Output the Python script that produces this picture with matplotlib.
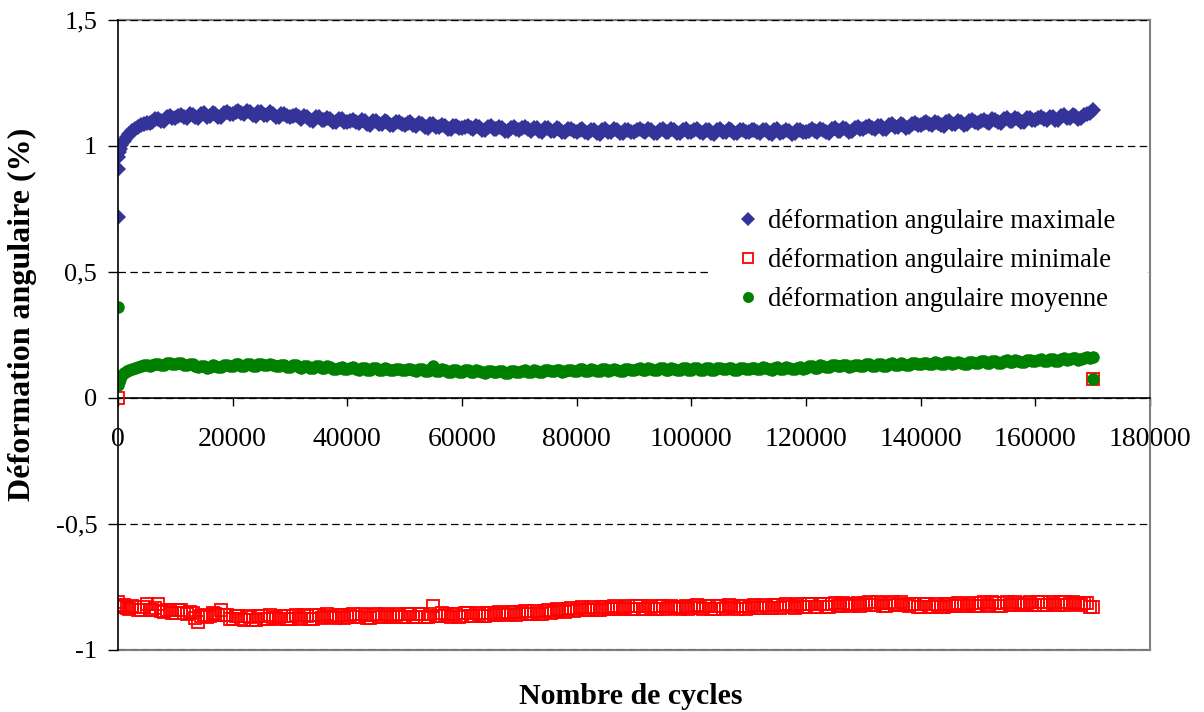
import numpy as np
import matplotlib
matplotlib.use("Agg")
import matplotlib.pyplot as plt
from matplotlib.patches import Rectangle
from matplotlib.ticker import FuncFormatter

plt.rcParams['font.family'] = ['Liberation Serif', 'DejaVu Serif']

# Readings every 1000 cycles (1000 ... 170000) and in between (1500 ... 169500)
cycles = np.arange(1000, 171000, 1000)
cycles_half = np.arange(1500, 170000, 1000)

# ---- maximum angular strain (%) ----
max_start_cycles = [0, 0, 50, 150, 300, 600]
max_start = [0.72, 0.91, 0.955, 0.975, 0.99, 1.005]
max_values = [
    1.020, 1.048, 1.068, 1.083, 1.093, 1.096, 1.107, 1.101, 1.118, 1.111,
    1.124, 1.113, 1.124, 1.111, 1.129, 1.119, 1.126, 1.117, 1.133, 1.125,
    1.137, 1.125, 1.134, 1.119, 1.136, 1.124, 1.128, 1.116, 1.128, 1.115,
    1.124, 1.109, 1.117, 1.101, 1.117, 1.104, 1.108, 1.095, 1.107, 1.095,
    1.104, 1.090, 1.099, 1.084, 1.101, 1.089, 1.094, 1.082, 1.095, 1.084,
    1.094, 1.080, 1.088, 1.072, 1.088, 1.075, 1.080, 1.068, 1.081, 1.070,
    1.080, 1.067, 1.076, 1.062, 1.079, 1.067, 1.073, 1.061, 1.075, 1.064,
    1.075, 1.061, 1.071, 1.056, 1.073, 1.061, 1.066, 1.054, 1.067, 1.057,
    1.066, 1.053, 1.063, 1.049, 1.067, 1.056, 1.062, 1.051, 1.065, 1.055,
    1.067, 1.054, 1.064, 1.050, 1.068, 1.057, 1.063, 1.052, 1.066, 1.056,
    1.066, 1.053, 1.063, 1.049, 1.067, 1.056, 1.062, 1.051, 1.065, 1.055,
    1.065, 1.052, 1.062, 1.048, 1.066, 1.055, 1.061, 1.050, 1.064, 1.054,
    1.066, 1.054, 1.065, 1.052, 1.071, 1.061, 1.068, 1.059, 1.074, 1.066,
    1.078, 1.067, 1.078, 1.066, 1.086, 1.076, 1.084, 1.075, 1.091, 1.082,
    1.094, 1.082, 1.093, 1.080, 1.099, 1.089, 1.096, 1.086, 1.102, 1.093,
    1.105, 1.093, 1.104, 1.091, 1.110, 1.100, 1.107, 1.097, 1.112, 1.103,
    1.115, 1.104, 1.115, 1.103, 1.122, 1.112, 1.120, 1.110, 1.126, 1.143,
]
max_values_half = [
    1.036, 1.059, 1.076, 1.089, 1.091, 1.109, 1.098, 1.115, 1.111, 1.119,
    1.116, 1.126, 1.114, 1.126, 1.117, 1.130, 1.115, 1.130, 1.125, 1.133,
    1.129, 1.137, 1.123, 1.134, 1.123, 1.133, 1.116, 1.127, 1.118, 1.121,
    1.114, 1.120, 1.105, 1.115, 1.103, 1.113, 1.095, 1.106, 1.097, 1.101,
    1.095, 1.102, 1.088, 1.099, 1.088, 1.099, 1.082, 1.094, 1.086, 1.091,
    1.085, 1.091, 1.076, 1.086, 1.074, 1.085, 1.068, 1.080, 1.072, 1.077,
    1.071, 1.079, 1.065, 1.077, 1.066, 1.077, 1.061, 1.073, 1.066, 1.071,
    1.066, 1.073, 1.060, 1.071, 1.060, 1.071, 1.054, 1.066, 1.058, 1.063,
    1.057, 1.065, 1.052, 1.064, 1.054, 1.066, 1.050, 1.063, 1.056, 1.062,
    1.058, 1.066, 1.053, 1.065, 1.055, 1.067, 1.051, 1.064, 1.057, 1.063,
    1.057, 1.065, 1.052, 1.064, 1.054, 1.066, 1.050, 1.063, 1.056, 1.062,
    1.056, 1.064, 1.051, 1.063, 1.053, 1.065, 1.049, 1.062, 1.055, 1.061,
    1.058, 1.067, 1.055, 1.068, 1.059, 1.072, 1.057, 1.072, 1.066, 1.074,
    1.070, 1.080, 1.068, 1.082, 1.074, 1.087, 1.073, 1.088, 1.083, 1.090,
    1.086, 1.095, 1.083, 1.096, 1.087, 1.100, 1.085, 1.099, 1.094, 1.101,
    1.097, 1.106, 1.094, 1.107, 1.098, 1.111, 1.096, 1.110, 1.104, 1.111,
    1.107, 1.117, 1.105, 1.119, 1.110, 1.123, 1.109, 1.123, 1.130,
]

# ---- minimum angular strain (%) ----
min_start_cycles = [0, 0, 100, 300, 600]
min_start = [0.0, -0.810, -0.822, -0.828, -0.826]
min_values = [
    -0.821, -0.836, -0.829, -0.842, -0.816, -0.842, -0.817, -0.849, -0.840, -0.852,
    -0.842, -0.858, -0.855, -0.890, -0.862, -0.866, -0.856, -0.842, -0.861, -0.877,
    -0.866, -0.879, -0.869, -0.880, -0.865, -0.875, -0.868, -0.877, -0.865, -0.875,
    -0.862, -0.875, -0.865, -0.876, -0.861, -0.871, -0.864, -0.873, -0.860, -0.870,
    -0.858, -0.870, -0.861, -0.872, -0.858, -0.868, -0.862, -0.871, -0.859, -0.868,
    -0.856, -0.869, -0.859, -0.870, -0.824, -0.865, -0.859, -0.868, -0.856, -0.866,
    -0.853, -0.866, -0.856, -0.867, -0.852, -0.861, -0.854, -0.862, -0.849, -0.859,
    -0.846, -0.859, -0.849, -0.858, -0.842, -0.850, -0.842, -0.849, -0.835, -0.843,
    -0.830, -0.842, -0.832, -0.842, -0.828, -0.837, -0.831, -0.839, -0.827, -0.837,
    -0.825, -0.837, -0.828, -0.839, -0.825, -0.835, -0.829, -0.837, -0.825, -0.835,
    -0.823, -0.836, -0.827, -0.838, -0.824, -0.833, -0.827, -0.836, -0.824, -0.834,
    -0.822, -0.834, -0.825, -0.835, -0.821, -0.830, -0.823, -0.832, -0.819, -0.829,
    -0.816, -0.829, -0.819, -0.829, -0.815, -0.824, -0.818, -0.826, -0.814, -0.823,
    -0.811, -0.823, -0.814, -0.824, -0.810, -0.821, -0.816, -0.827, -0.817, -0.829,
    -0.818, -0.831, -0.821, -0.831, -0.816, -0.825, -0.818, -0.827, -0.814, -0.824,
    -0.811, -0.824, -0.814, -0.825, -0.810, -0.820, -0.814, -0.823, -0.811, -0.820,
    -0.808, -0.821, -0.812, -0.823, -0.809, -0.819, -0.813, -0.823, -0.815, -0.828,
]
min_values_half = [
    -0.834, -0.825, -0.841, -0.831, -0.843, -0.832, -0.845, -0.840, -0.853, -0.843,
    -0.855, -0.849, -0.872, -0.865, -0.871, -0.853, -0.863, -0.860, -0.876, -0.867,
    -0.878, -0.866, -0.880, -0.867, -0.877, -0.863, -0.874, -0.867, -0.877, -0.864,
    -0.874, -0.862, -0.876, -0.863, -0.873, -0.859, -0.870, -0.862, -0.872, -0.860,
    -0.869, -0.858, -0.872, -0.860, -0.870, -0.857, -0.868, -0.861, -0.871, -0.858,
    -0.868, -0.856, -0.870, -0.858, -0.867, -0.854, -0.865, -0.858, -0.868, -0.855,
    -0.865, -0.853, -0.867, -0.854, -0.863, -0.849, -0.859, -0.851, -0.861, -0.848,
    -0.858, -0.846, -0.859, -0.845, -0.853, -0.838, -0.847, -0.838, -0.846, -0.832,
    -0.841, -0.829, -0.842, -0.830, -0.839, -0.826, -0.836, -0.829, -0.839, -0.827,
    -0.836, -0.825, -0.839, -0.827, -0.837, -0.824, -0.835, -0.828, -0.837, -0.825,
    -0.835, -0.824, -0.838, -0.826, -0.836, -0.823, -0.833, -0.826, -0.836, -0.824,
    -0.833, -0.822, -0.835, -0.823, -0.832, -0.818, -0.829, -0.821, -0.831, -0.818,
    -0.828, -0.816, -0.829, -0.817, -0.826, -0.813, -0.823, -0.816, -0.825, -0.813,
    -0.822, -0.811, -0.824, -0.812, -0.822, -0.810, -0.823, -0.818, -0.830, -0.819,
    -0.830, -0.818, -0.831, -0.818, -0.827, -0.813, -0.824, -0.816, -0.826, -0.813,
    -0.823, -0.811, -0.825, -0.812, -0.822, -0.809, -0.820, -0.813, -0.822, -0.810,
    -0.820, -0.809, -0.823, -0.811, -0.821, -0.808, -0.819, -0.815, -0.831,
]
min_end_cycles = [170000]
min_end = [0.075]

# ---- mean angular strain (%) ----
mean_start_cycles = [0, 0, 100, 300, 600]
mean_start = [0.361, 0.052, 0.062, 0.075, 0.088]
mean_values = [
    0.098, 0.113, 0.120, 0.126, 0.129, 0.129, 0.134, 0.130, 0.138, 0.133,
    0.139, 0.129, 0.133, 0.122, 0.127, 0.122, 0.127, 0.123, 0.131, 0.126,
    0.134, 0.127, 0.133, 0.126, 0.135, 0.129, 0.131, 0.125, 0.131, 0.124,
    0.130, 0.121, 0.126, 0.118, 0.126, 0.120, 0.122, 0.116, 0.122, 0.115,
    0.122, 0.113, 0.119, 0.111, 0.120, 0.113, 0.116, 0.110, 0.117, 0.110,
    0.117, 0.109, 0.114, 0.107, 0.125, 0.108, 0.111, 0.105, 0.112, 0.105,
    0.111, 0.103, 0.108, 0.101, 0.109, 0.103, 0.106, 0.101, 0.108, 0.102,
    0.110, 0.102, 0.109, 0.102, 0.112, 0.106, 0.110, 0.106, 0.113, 0.108,
    0.115, 0.107, 0.113, 0.106, 0.115, 0.110, 0.113, 0.109, 0.116, 0.111,
    0.118, 0.110, 0.117, 0.110, 0.119, 0.113, 0.116, 0.112, 0.119, 0.113,
    0.120, 0.112, 0.118, 0.111, 0.120, 0.115, 0.118, 0.113, 0.120, 0.114,
    0.121, 0.114, 0.120, 0.113, 0.122, 0.116, 0.120, 0.115, 0.123, 0.118,
    0.127, 0.121, 0.128, 0.122, 0.132, 0.126, 0.129, 0.125, 0.132, 0.127,
    0.134, 0.127, 0.134, 0.128, 0.138, 0.132, 0.136, 0.131, 0.139, 0.133,
    0.140, 0.133, 0.139, 0.133, 0.142, 0.137, 0.140, 0.136, 0.144, 0.139,
    0.146, 0.139, 0.146, 0.140, 0.149, 0.144, 0.148, 0.144, 0.152, 0.146,
    0.154, 0.147, 0.154, 0.148, 0.158, 0.153, 0.157, 0.153, 0.162, 0.162,
]
mean_values_half = [
    0.106, 0.117, 0.123, 0.131, 0.128, 0.136, 0.130, 0.137, 0.133, 0.139,
    0.131, 0.136, 0.125, 0.128, 0.121, 0.129, 0.123, 0.130, 0.126, 0.133,
    0.128, 0.135, 0.127, 0.134, 0.129, 0.134, 0.125, 0.130, 0.124, 0.129,
    0.122, 0.128, 0.119, 0.125, 0.120, 0.125, 0.116, 0.121, 0.115, 0.121,
    0.114, 0.121, 0.112, 0.119, 0.113, 0.119, 0.110, 0.116, 0.110, 0.116,
    0.110, 0.116, 0.108, 0.114, 0.108, 0.114, 0.105, 0.111, 0.105, 0.110,
    0.104, 0.110, 0.102, 0.108, 0.103, 0.109, 0.101, 0.107, 0.102, 0.108,
    0.103, 0.110, 0.103, 0.110, 0.106, 0.112, 0.105, 0.112, 0.107, 0.114,
    0.108, 0.115, 0.107, 0.114, 0.109, 0.116, 0.108, 0.115, 0.110, 0.117,
    0.111, 0.118, 0.111, 0.118, 0.113, 0.119, 0.111, 0.118, 0.113, 0.119,
    0.113, 0.120, 0.112, 0.119, 0.114, 0.121, 0.113, 0.119, 0.114, 0.120,
    0.114, 0.122, 0.114, 0.121, 0.116, 0.122, 0.115, 0.121, 0.117, 0.125,
    0.121, 0.129, 0.122, 0.130, 0.126, 0.132, 0.124, 0.131, 0.126, 0.133,
    0.127, 0.135, 0.128, 0.136, 0.132, 0.138, 0.131, 0.137, 0.133, 0.139,
    0.133, 0.141, 0.133, 0.141, 0.136, 0.143, 0.135, 0.142, 0.138, 0.145,
    0.139, 0.147, 0.140, 0.148, 0.143, 0.150, 0.143, 0.150, 0.146, 0.152,
    0.147, 0.155, 0.148, 0.156, 0.152, 0.159, 0.152, 0.160, 0.157,
]
mean_end_cycles = [170000]
mean_end = [0.075]

labels = ["déformation angulaire maximale",
          "déformation angulaire minimale",
          "déformation angulaire moyenne"]
y_ticks = [-1, -0.5, 0, 0.5, 1, 1.5]
x_ticks = list(range(0, 180001, 20000))

W, H = 1204, 712
fig = plt.figure(figsize=(W / 100, H / 100), dpi=100)
ax = fig.add_axes([118 / W, 1 - 650 / H, (1150 - 118) / W, (650 - 20) / H])


def merge(start_c, start_v, main_v, half_v, end_c=(), end_v=()):
    c = np.concatenate([start_c, cycles, cycles_half, end_c])
    v = np.concatenate([start_v, main_v, half_v, end_v])
    return c, v


x_max, y_max = merge(max_start_cycles, max_start, max_values, max_values_half)
x_min, y_min = merge(min_start_cycles, min_start, min_values, min_values_half,
                     min_end_cycles, min_end)
x_mean, y_mean = merge(mean_start_cycles, mean_start, mean_values,
                       mean_values_half, mean_end_cycles, mean_end)

ax.plot(x_max, y_max, linestyle='none', marker='D', markersize=8.4,
        color='#333399', markeredgewidth=0, label=labels[0], zorder=3)
ax.plot(x_min, y_min, linestyle='none', marker='s', markersize=8.0,
        markerfacecolor='none', markeredgecolor='#FF0000', markeredgewidth=1.3,
        label=labels[1], zorder=4)
ax.plot(x_mean, y_mean, linestyle='none', marker='o', markersize=9.0,
        color='#008000', markeredgewidth=0, label=labels[2], zorder=5)

ax.set_xlim(0, 180000)
ax.set_ylim(-1, 1.5)
ax.set_xticks(x_ticks)
ax.set_yticks(y_ticks)
ax.xaxis.set_major_formatter(FuncFormatter(lambda v, p: f"{int(v)}"))
ax.yaxis.set_major_formatter(FuncFormatter(lambda v, p: f"{v:g}".replace('.', ',')))

# dashed horizontal gridlines
ax.yaxis.grid(True, linestyle=(0, (6, 3.5)), color='black', linewidth=0.9)
ax.set_axisbelow(True)

# spines: left axis black, x axis through zero, gray plot-area border
ax.spines['left'].set_color('black')
ax.spines['left'].set_linewidth(1.2)
ax.spines['left'].set_zorder(6)
ax.spines['bottom'].set_position(('data', 0))
ax.spines['bottom'].set_color('black')
ax.spines['bottom'].set_linewidth(1.2)
ax.spines['right'].set_color('#808080')
ax.spines['right'].set_linewidth(1.5)
ax.spines['top'].set_visible(False)

ax.add_line(plt.Line2D([0, 1], [0, 0], transform=ax.transAxes, color='#808080',
                       linewidth=1.6, zorder=0.5, clip_on=False))
ax.add_line(plt.Line2D([0, 1], [1, 1], transform=ax.transAxes, color='#808080',
                       linewidth=1.6, zorder=0.5, clip_on=False))

ax.tick_params(axis='x', direction='out', length=6, width=1, pad=15,
               labelsize=20)
ax.tick_params(axis='y', direction='out', length=7, width=1, pad=8,
               labelsize=19)

# white legend background box
ax.add_patch(Rectangle((710 / W, 1 - 335 / H), (1147 - 710) / W, (335 - 200) / H,
                       transform=fig.transFigure, facecolor='white',
                       edgecolor='none', zorder=1))

leg = ax.legend(loc='upper left', bbox_to_anchor=(737 / W, 1 - 209 / H),
                bbox_transform=fig.transFigure, frameon=False,
                fontsize=19.2, handlelength=0.8, handletextpad=0.35,
                labelspacing=0.53, borderpad=0.0, borderaxespad=0,
                markerscale=0.88)
leg.set_zorder(7)

fig.text(631 / W, 1 - 697 / H, "Nombre de cycles", ha='center', va='center',
         fontsize=21.5, fontweight='bold')
fig.text(22 / W, 1 - 314 / H, "Déformation angulaire (%)", ha='center',
         va='center', rotation=90, fontsize=23, fontweight='bold')

fig.savefig("out.png", dpi=100, facecolor='white')
